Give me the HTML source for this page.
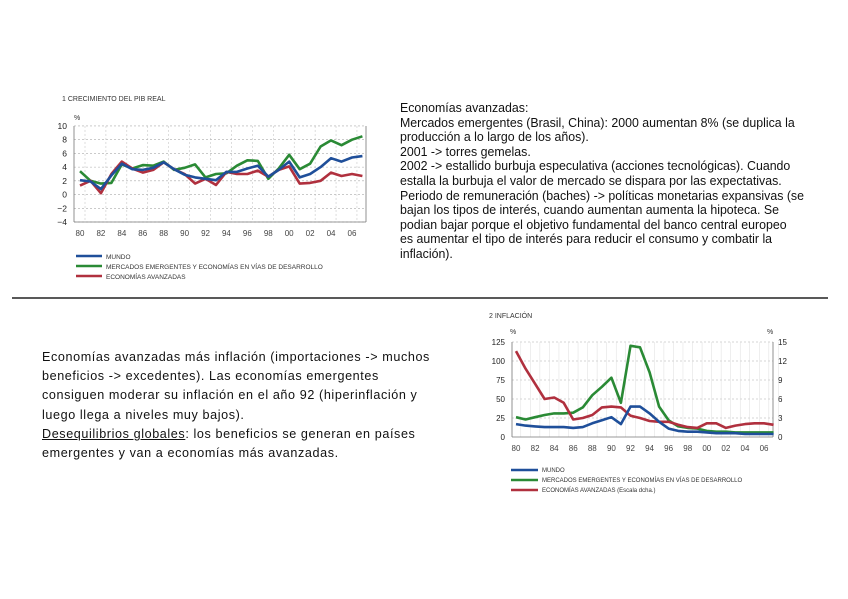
<!DOCTYPE html>
<html><head><meta charset="utf-8">
<style>
body{margin:0;background:#fff;width:848px;height:599px;overflow:hidden;position:relative;font-family:"Liberation Sans",sans-serif}
.t1{position:absolute;left:400px;top:101px;font-size:13px;line-height:14.6px;color:#111;white-space:nowrap;transform:scaleX(0.95);transform-origin:0 0}
.t2{position:absolute;left:42px;top:348px;font-size:12.6px;line-height:19.2px;color:#111;white-space:nowrap;letter-spacing:0.6px}
svg{position:absolute;left:0;top:0}
</style></head><body>
<div class="t1">Economías avanzadas:<br>Mercados emergentes (Brasil, China): 2000 aumentan 8% (se duplica la<br>producción a lo largo de los años).<br>2001 -&gt; torres gemelas.<br>2002 -&gt; estallido burbuja especulativa (acciones tecnológicas). Cuando<br>estalla la burbuja el valor de mercado se dispara por las expectativas.<br>Periodo de remuneración (baches) -&gt; políticas monetarias expansivas (se<br>bajan los tipos de interés, cuando aumentan aumenta la hipoteca. Se<br>podian bajar porque el objetivo fundamental del banco central europeo<br>es aumentar el tipo de interés para reducir el consumo y combatir la<br>inflación).</div>
<div class="t2">Economías avanzadas más inflación (importaciones -&gt; muchos<br>beneficios -&gt; excedentes). Las economías emergentes<br>consiguen moderar su inflación en el año 92 (hiperinflación y<br>luego llega a niveles muy bajos).<br><u>Desequilibrios globales</u>: los beneficios se generan en países<br>emergentes y van a economías más avanzadas.</div>
<svg id="s" width="848" height="599" xmlns="http://www.w3.org/2000/svg" font-family="Liberation Sans, sans-serif"></svg>
<script>
var s=document.getElementById('s'),h='';
function L(x1,y1,x2,y2,c,w,d){h+='<line x1="'+x1+'" y1="'+y1+'" x2="'+x2+'" y2="'+y2+'" stroke="'+c+'" stroke-width="'+(w||1)+'"'+(d?' stroke-dasharray="'+d+'"':'')+'/>';}
function T(x,y,t,sz,a,c){h+='<text x="'+x+'" y="'+y+'" font-size="'+sz+'" fill="'+(c||'#333')+'"'+(a?' text-anchor="'+a+'"':'')+'>'+t+'</text>';}
function P(d,fx,fy,c){var p=d.map(function(v,i){return fx(i).toFixed(1)+','+fy(v).toFixed(1)}).join(' ');h+='<polyline points="'+p+'" fill="none" stroke="'+c+'" stroke-width="2.6" stroke-linejoin="round"/>';}
L(12,298,828,298,'#222',1.5);
var x1=function(i){return 80+i*10.46},y1=function(v){return 222-(v+4)*6.86};
T(62,101,'1  CRECIMIENTO DEL PIB REAL',7,null,'#333');
T(74,120,'%',7);
for(var v=-4;v<=10;v+=2){var y=y1(v);L(74,y,366,y,'#aaa',0.6,'2,2');T(67,y+3,v==-4?'−4':v==-2?'−2':v,8.5,'end','#222');}
for(var i=0;i<28;i+=2){L(x1(i)+5,y1(10),x1(i)+5,222,'#bbb',0.5,'2,2');}
L(74,y1(10),74,222,'#777',0.8);L(366,y1(10),366,222,'#777',0.8);L(74,222,366,222,'#777',0.8);
var lb=['80','82','84','86','88','90','92','94','96','98','00','02','04','06'];
for(var k=0;k<14;k++)T(x1(k*2),236,lb[k],8,'middle','#444');
P([3.4,2.0,1.6,1.7,4.4,3.8,4.3,4.2,4.8,3.6,3.9,4.4,2.5,3.0,3.1,4.2,5.0,4.9,2.3,3.8,5.8,3.7,4.5,7.0,7.9,7.2,8.0,8.5],x1,y1,'#2a8a35');
P([1.3,2.0,0.2,3.0,4.8,3.8,3.2,3.6,4.7,3.7,3.0,1.6,2.3,1.4,3.3,3.0,3.0,3.5,2.6,3.6,4.1,1.6,1.7,2.0,3.2,2.7,3.0,2.7],x1,y1,'#b0303e');
P([2.1,1.9,0.8,2.8,4.5,3.7,3.6,3.9,4.7,3.7,2.9,2.5,2.3,2.1,3.3,3.3,3.8,4.2,2.6,3.6,4.8,2.5,3.0,4.0,5.3,4.8,5.4,5.6],x1,y1,'#1f4f9a');
L(76,256,102,256,'#1f4f9a',2.6);T(106,259,'MUNDO',6.5);
L(76,266,102,266,'#2a8a35',2.6);T(106,269,'MERCADOS EMERGENTES Y ECONOMÍAS EN VÍAS DE DESARROLLO',6.5);
L(76,276,102,276,'#b0303e',2.6);T(106,279,'ECONOMÍAS AVANZADAS',6.5);
var x2=function(i){return 516+i*9.54},y2=function(v){return 437-v*0.76};
T(489,318,'2  INFLACIÓN',7);T(510,334,'%',7);T(767,334,'%',7);
for(var j=0;j<=5;j++){var y=y2(j*25);if(j>0)L(512,y,773,y,'#aaa',0.6,'2,2');T(505,y+3,j*25,8,'end','#222');T(778,y+3,j*3,8,null,'#222');}
for(var i=0;i<28;i++)L(x2(i)+4.8,y2(125),x2(i)+4.8,437,'#ddd',0.5);
L(512,y2(125),512,437,'#777',0.8);L(773,y2(125),773,437,'#777',0.8);L(512,437,773,437,'#777',0.8);
for(var k=0;k<14;k++)T(x2(k*2),451,lb[k],8,'middle','#444');
P([26,23,26,29,31,31,32,39,55,66,78,45,120,118,85,40,22,14,12,11,8,7,7,6,6,6,6,6],x2,y2,'#2a8a35');
P([113,90,70,50,52,45,23,25,29,39,40,39,28,25,21,20,20,16,13,12,18,18,12,15,17,18,18,16],x2,y2,'#b0303e');
P([17,15,14,13,13,13,12,13,18,22,26,17,40,40,31,20,11,8,7,7,6,5,5,5,4,4,4,4],x2,y2,'#1f4f9a');
L(511,470,538,470,'#1f4f9a',2.6);T(542,472,'MUNDO',6);
L(511,480,538,480,'#2a8a35',2.6);T(542,482,'MERCADOS EMERGENTES Y ECONOMÍAS EN VÍAS DE DESARROLLO',6);
L(511,490,538,490,'#b0303e',2.6);T(542,492,'ECONOMÍAS AVANZADAS (Escala dcha.)',6);
s.innerHTML=h;
</script>
</body></html>
